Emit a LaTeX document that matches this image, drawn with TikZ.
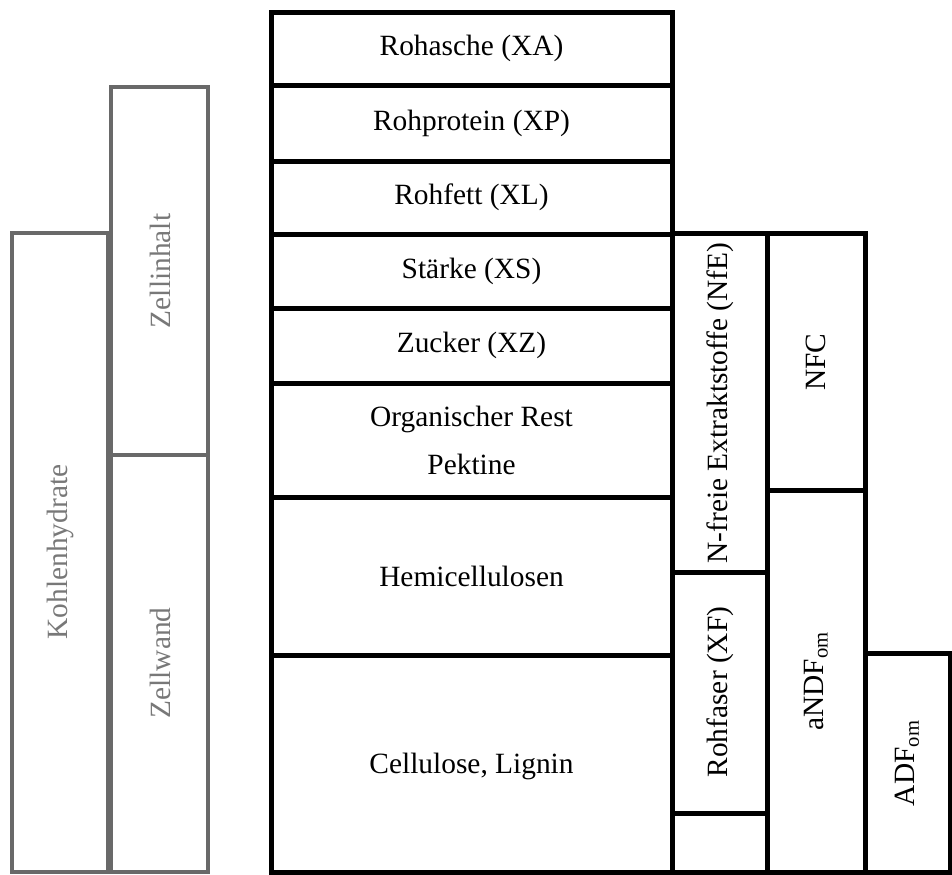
\documentclass[tikz,border=0pt]{standalone}
\usepackage{fontspec}
\setmainfont{Liberation Serif}
\definecolor{boxgray}{RGB}{105,105,105}
\definecolor{textgray}{RGB}{120,120,120}
\tikzset{
	blk/.style={line width=2.5pt,line join=miter},
	gry/.style={line width=2pt,draw=boxgray},
	lbl/.style={font=\fontsize{14.7}{18}\selectfont,align=center},
	vlbl/.style={lbl,rotate=90},
	glbl/.style={vlbl,text=textgray},
}
\begin{document}
\begin{tikzpicture}[x=0.5pt,y=-0.5pt]
		\useasboundingbox (0,0) rectangle (952,874);
		% grey columns left
		\draw[gry] (12,233) rectangle (108,872);
		\draw[gry] (111,87) rectangle (208,455);
		\draw[gry] (111,455) rectangle (208,872);
		\node[glbl] (kh) at (60,552) {Kohlenhydrate};
		\node[glbl] (zi) at (160,271) {Zellinhalt};
		\node[glbl] (zw) at (160,663) {Zellwand};
		% main column
		\draw[blk] (271,12) rectangle (672,85);
		\draw[blk] (271,85) rectangle (672,161);
		\draw[blk] (271,161) rectangle (672,234);
		\draw[blk] (271,234) rectangle (672,308);
		\draw[blk] (271,308) rectangle (672,383);
		\draw[blk] (271,383) rectangle (672,497);
		\draw[blk] (271,497) rectangle (672,655);
		\draw[blk] (271,655) rectangle (672,872);
		\node[lbl] (xa) at (471.5,48.5) {Rohasche (XA)};
		\node[lbl] (xp) at (471.5,123) {Rohprotein (XP)};
		\node[lbl] (xl) at (471.5,197.5) {Rohfett (XL)};
		\node[lbl] (xs) at (471.5,271) {Stärke (XS)};
		\node[lbl] (xz) at (471.5,345.5) {Zucker (XZ)};
		\node[lbl] (rest) at (471.5,440) {Organischer Rest\\[6pt]Pektine};
		\node[lbl] (hemi) at (471.5,576) {Hemicellulosen};
		\node[lbl] (cell) at (471.5,766) {Cellulose, Lignin};
		% right columns
		\draw[blk] (672,233) rectangle (767,572);
		\draw[blk] (672,572) rectangle (767,813);
		\draw[blk] (672,813) rectangle (767,872);
		\draw[blk] (767,233) rectangle (865,490);
		\draw[blk] (767,490) rectangle (865,872);
		\draw[blk] (865,653) rectangle (950,872);
		\node[vlbl] (nfe) at (720,403) {N-freie Extraktstoffe (NfE)};
		\node[vlbl] (xf) at (720,692) {Rohfaser (XF)};
		\node[vlbl] (nfc) at (816,362) {NFC};
		\node[vlbl] (ndf) at (816,681) {aNDF\textsubscript{om}};
		\node[vlbl] (adf) at (907,763) {ADF\textsubscript{om}};
	\end{tikzpicture}
\end{document}
